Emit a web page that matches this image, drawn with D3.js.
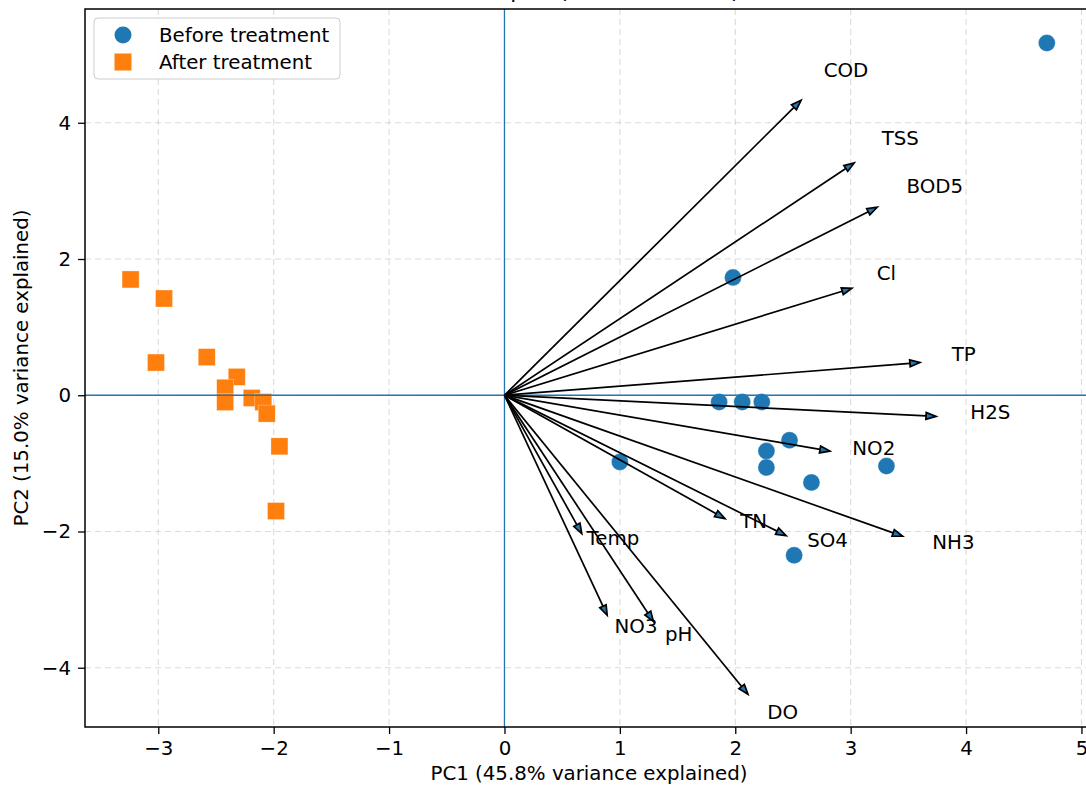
<!DOCTYPE html>
<html>
<head>
<meta charset="utf-8">
<script src="https://cdn.jsdelivr.net/npm/d3@7"></script>
<style>
  html, body { margin: 0; padding: 0; background: #ffffff; }
  svg { display: block; font-family: "DejaVu Sans", sans-serif; }
</style>
</head>
<body>
<svg id="chart" width="1086" height="786"></svg>
<script>
// ---------------- data ----------------
const titleText = "PCA Biplot (Before vs After)";
const xLabel = "PC1 (45.8% variance explained)";
const yLabel = "PC2 (15.0% variance explained)";
const xTicks = [-3, -2, -1, 0, 1, 2, 3, 4, 5];
const yTicks = [-4, -2, 0, 2, 4];

const beforePC1 = [4.70, 1.98, 1.86, 2.06, 2.23, 1.00, 2.47, 2.27, 2.27, 2.66, 3.31, 2.51];
const beforePC2 = [5.17, 1.73, -0.10, -0.10, -0.10, -0.98, -0.66, -0.82, -1.06, -1.28, -1.04, -2.35];

const afterPC1 = [-3.24, -2.95, -3.02, -2.58, -2.32, -2.42, -2.42, -2.19, -2.09, -2.06, -1.95, -1.98];
const afterPC2 = [1.70, 1.42, 0.48, 0.56, 0.27, 0.11, -0.10, -0.04, -0.10, -0.27, -0.75, -1.70];

const variables = ["COD", "TSS", "BOD5", "Cl", "TP", "H2S", "NO2", "TN", "SO4", "NH3", "Temp", "NO3", "pH", "DO"];
const loadPC1 = [2.57, 3.03, 3.23, 3.01, 3.60, 3.74, 2.82, 1.91, 2.44, 3.45, 0.67, 0.89, 1.29, 2.11];
const loadPC2 = [4.33, 3.41, 2.76, 1.57, 0.48, -0.31, -0.82, -1.81, -2.06, -2.07, -2.03, -3.23, -3.32, -4.39];
const labelPC1 = [2.96, 3.43, 3.73, 3.31, 3.98, 4.21, 3.20, 2.16, 2.80, 3.89, 0.94, 1.14, 1.51, 2.41];
const labelPC2 = [4.76, 3.77, 3.07, 1.79, 0.60, -0.25, -0.78, -1.86, -2.13, -2.16, -2.10, -3.39, -3.51, -4.65];

const legendLabels = ["Before treatment", "After treatment"];

// ---------------- layout ----------------
const FONT = 19.8;
const blue = "#1f77b4", orange = "#ff7f0e";
const pLeft = 85, pTop = 9, pRight = 1093, pBottom = 727;

const svg = d3.select("#chart");
const x = d3.scaleLinear().domain([-3.635, 5.1]).range([pLeft, pRight]);
const y = d3.scaleLinear().domain([-4.87, 5.67]).range([pBottom, pTop]);

svg.append("defs").append("clipPath").attr("id", "plotclip")
  .append("rect").attr("x", pLeft).attr("y", pTop).attr("width", pRight - pLeft).attr("height", pBottom - pTop);

// title (mostly cut off at top, as in the reference)
svg.append("text").attr("x", (pLeft + pRight) / 2).attr("y", -2)
  .attr("text-anchor", "middle").attr("font-size", 22).attr("fill", "#000")
  .text(titleText);

// grid
const grid = svg.append("g").attr("clip-path", "url(#plotclip)");
grid.selectAll("line.gx").data(xTicks).join("line")
  .attr("x1", d => x(d)).attr("x2", d => x(d)).attr("y1", pTop).attr("y2", pBottom)
  .attr("stroke", "#b0b0b0").attr("stroke-opacity", 0.45).attr("stroke-width", 1.1)
  .attr("stroke-dasharray", "6,4");
grid.selectAll("line.gy").data(yTicks).join("line")
  .attr("y1", d => y(d)).attr("y2", d => y(d)).attr("x1", pLeft).attr("x2", pRight)
  .attr("stroke", "#b0b0b0").attr("stroke-opacity", 0.45).attr("stroke-width", 1.1)
  .attr("stroke-dasharray", "6,4");

const plot = svg.append("g").attr("clip-path", "url(#plotclip)");

// scatter
const beforeData = beforePC1.map((v, i) => ({ x: v, y: beforePC2[i] }));
const afterData = afterPC1.map((v, i) => ({ x: v, y: afterPC2[i] }));
plot.selectAll("circle.before").data(beforeData).join("circle")
  .attr("cx", d => x(d.x)).attr("cy", d => y(d.y)).attr("r", 8.5)
  .attr("fill", blue).attr("stroke", "#ffffff").attr("stroke-opacity", 0.5).attr("stroke-width", 0.6);
const sq = 17;
plot.selectAll("rect.after").data(afterData).join("rect")
  .attr("x", d => x(d.x) - sq / 2).attr("y", d => y(d.y) - sq / 2)
  .attr("width", sq).attr("height", sq)
  .attr("fill", orange).attr("stroke", "#ffffff").attr("stroke-opacity", 0.5).attr("stroke-width", 0.6);

// zero lines
plot.append("line").attr("x1", x(0)).attr("x2", x(0)).attr("y1", pTop).attr("y2", pBottom)
  .attr("stroke", blue).attr("stroke-width", 1.3);
plot.append("line").attr("y1", y(0)).attr("y2", y(0)).attr("x1", pLeft).attr("x2", pRight)
  .attr("stroke", blue).attr("stroke-width", 1.3);

// arrows
const arrows = variables.map((v, i) => ({ name: v, x: loadPC1[i], y: loadPC2[i], lx: labelPC1[i], ly: labelPC2[i] }));
const headL = 10, headW = 7;
arrows.forEach(a => {
  const x0 = x(0), y0 = y(0), x1 = x(a.x), y1 = y(a.y);
  const dx = x1 - x0, dy = y1 - y0, len = Math.hypot(dx, dy);
  const ux = dx / len, uy = dy / len, px = -uy, py = ux;
  const bx = x1 - ux * headL, by = y1 - uy * headL;
  plot.append("line").attr("x1", x0).attr("y1", y0).attr("x2", bx).attr("y2", by)
    .attr("stroke", "#000").attr("stroke-width", 1.7);
  plot.append("path")
    .attr("d", `M${x1},${y1}L${bx + px * headW / 2},${by + py * headW / 2}L${bx - px * headW / 2},${by - py * headW / 2}Z`)
    .attr("fill", blue).attr("stroke", "#000").attr("stroke-width", 1.7).attr("stroke-linejoin", "miter");
});
plot.selectAll("text.lab").data(arrows).join("text")
  .attr("x", d => x(d.lx)).attr("y", d => y(d.ly))
  .attr("text-anchor", "middle").attr("dominant-baseline", "central")
  .attr("font-size", FONT).attr("fill", "#000")
  .text(d => d.name);

// axes
const xAxis = d3.axisBottom(x).tickValues(xTicks).tickSize(7).tickPadding(7)
  .tickFormat(d => d < 0 ? "\u2212" + Math.abs(d) : d);
const yAxis = d3.axisLeft(y).tickValues(yTicks).tickSize(7).tickPadding(7)
  .tickFormat(d => d < 0 ? "\u2212" + Math.abs(d) : d);
const gx = svg.append("g").attr("transform", `translate(0,${pBottom})`).call(xAxis);
const gy = svg.append("g").attr("transform", `translate(${pLeft},0)`).call(yAxis);
[gx, gy].forEach(g => {
  g.select(".domain").remove();
  g.selectAll(".tick line").attr("stroke", "#000").attr("stroke-width", 1.3);
  g.selectAll(".tick text").attr("font-size", FONT).attr("fill", "#000")
    .attr("font-family", "DejaVu Sans, sans-serif");
});

// frame
svg.append("rect").attr("x", pLeft).attr("y", pTop).attr("width", pRight - pLeft).attr("height", pBottom - pTop)
  .attr("fill", "none").attr("stroke", "#000").attr("stroke-width", 1.5);

// axis labels
svg.append("text").attr("x", (pLeft + pRight) / 2).attr("y", 780)
  .attr("text-anchor", "middle").attr("font-size", FONT).attr("fill", "#000").text(xLabel);
svg.append("text").attr("transform", `translate(28,${(pTop + pBottom) / 2}) rotate(-90)`)
  .attr("text-anchor", "middle").attr("font-size", FONT).attr("fill", "#000").text(yLabel);

// legend
const lg = svg.append("g");
lg.append("rect").attr("x", 94).attr("y", 18).attr("width", 246).attr("height", 61).attr("rx", 4)
  .attr("fill", "#ffffff").attr("fill-opacity", 0.85).attr("stroke", "#cccccc").attr("stroke-width", 1);
lg.append("circle").attr("cx", 123).attr("cy", 35).attr("r", 8.5).attr("fill", blue);
lg.append("rect").attr("x", 123 - sq / 2).attr("y", 62 - sq / 2).attr("width", sq).attr("height", sq).attr("fill", orange);
lg.selectAll("text").data(legendLabels).join("text")
  .attr("x", 159).attr("y", (d, i) => 35 + i * 27)
  .attr("dominant-baseline", "central").attr("font-size", FONT).attr("fill", "#000")
  .text(d => d);
</script>
</body>
</html>
